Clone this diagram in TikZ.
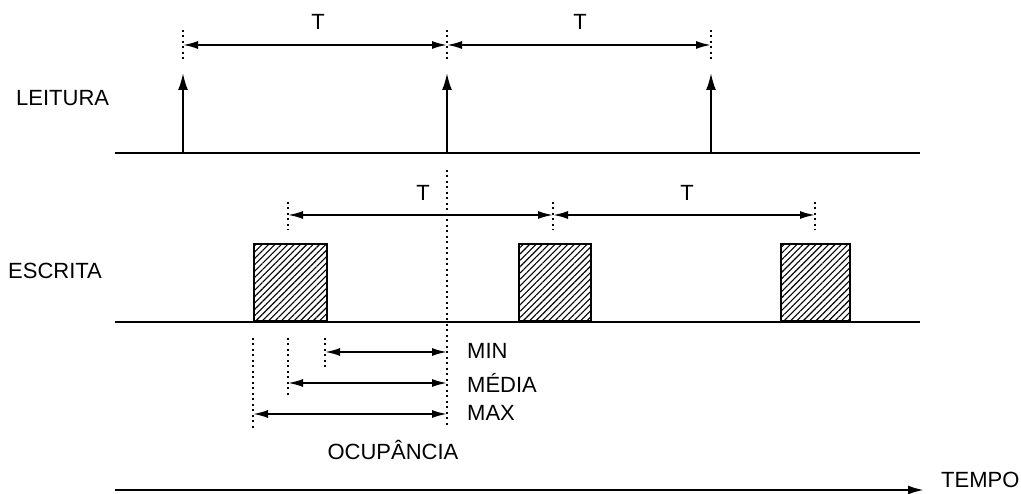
\documentclass[tikz,border=0pt]{standalone}
\usepackage{fontspec}
\setmainfont{Liberation Sans}
\usetikzlibrary{arrows.meta,patterns.meta}
\begin{document}
\begin{tikzpicture}[x=1pt,y=-1pt,
  lbl/.style={inner sep=0pt,font=\fontsize{22}{26}\selectfont},
  baseln/.style={line width=2.6pt},
  dots/.style={line width=2pt,dash pattern=on 2pt off 3.5pt},
  dim/.style={line width=1.8pt,{Latex[length=15pt,width=8pt]}-{Latex[length=15pt,width=8pt]}},
  readarr/.style={line width=2pt,-{Latex[length=17pt,width=10pt]}},
  slot/.style={draw,line width=2pt,pattern={Lines[angle=45,distance=4.5pt,line width=1.1pt]}}
]
\useasboundingbox (0,0) rectangle (1021,494);
% labels
\node[lbl,anchor=west] (leit) at (16,98) {LEITURA};
\node[lbl,anchor=west] (escr) at (8,271) {ESCRITA};
% LEITURA
\coordinate (l0) at (115,153); \coordinate (l1) at (920,153);
\draw[baseln] (l0) -- (l1);
\foreach \n/\x in {a/183,b/447,c/711}{
  \coordinate (r\n) at (\x,153); \coordinate (rt\n) at (\x,73);
  \draw[readarr] (r\n) -- (rt\n);
  \coordinate (dt\n) at (\x,30); \coordinate (db\n) at (\x,62);
  \draw[dots] (dt\n) -- (db\n);
  \coordinate (m\n) at (\x,45);
}
\draw[dim] (ma) -- (mb);
\draw[dim] (mb) -- (mc);
\node[lbl] (t1) at (318,22) {T};
\node[lbl] (t2) at (580,22) {T};
% ESCRITA
\coordinate (e0) at (115,322); \coordinate (e1) at (920,322);
\node[slot,minimum width=73pt,minimum height=77pt,anchor=south west] (s1) at (253,322) {};
\node[slot,minimum width=72pt,minimum height=77pt,anchor=south west] (s2) at (518,322) {};
\node[slot,minimum width=69pt,minimum height=77pt,anchor=south west] (s3) at (780,322) {};
\draw[baseln] (e0) -- (e1);
\coordinate (cT) at (447,170); \coordinate (cB) at (447,428);
\draw[dots] (cT) -- (cB);
\foreach \n/\x in {a/288,b/553,c/815}{
  \coordinate (et\n) at (\x,202); \coordinate (eb\n) at (\x,230);
  \draw[dots] (et\n) -- (eb\n);
  \coordinate (n\n) at (\x,215);
}
\draw[dim] (na) -- (nb);
\draw[dim] (nb) -- (nc);
\node[lbl] (t3) at (423,193) {T};
\node[lbl] (t4) at (687,193) {T};
% occupancy
\coordinate (o1t) at (253,338); \coordinate (o1b) at (253,428);
\coordinate (o2t) at (288,338); \coordinate (o2b) at (288,395);
\coordinate (o3t) at (325,338); \coordinate (o3b) at (325,368);
\draw[dots] (o1t) -- (o1b);
\draw[dots] (o2t) -- (o2b);
\draw[dots] (o3t) -- (o3b);
\coordinate (minL) at (325,352); \coordinate (minR) at (447,352);
\coordinate (medL) at (288,383); \coordinate (medR) at (447,383);
\coordinate (maxL) at (253,414); \coordinate (maxR) at (447,414);
\draw[dim] (minL) -- (minR);
\draw[dim] (medL) -- (medR);
\draw[dim] (maxL) -- (maxR);
\node[lbl,anchor=west] (min) at (467,351) {MIN};
\node[lbl,anchor=west] (med) at (467,383) {MÉDIA};
\node[lbl,anchor=west] (max) at (467,413) {MAX};
\node[lbl] (ocup) at (393,450) {OCUPÂNCIA};
% time axis
\coordinate (ta) at (115,490); \coordinate (tb) at (924,490);
\draw[line width=2.2pt,-{Latex[length=16pt,width=9pt]}] (ta) -- (tb);
\node[lbl,anchor=west] (tempo) at (941,480) {TEMPO};
\end{tikzpicture}
\end{document}
